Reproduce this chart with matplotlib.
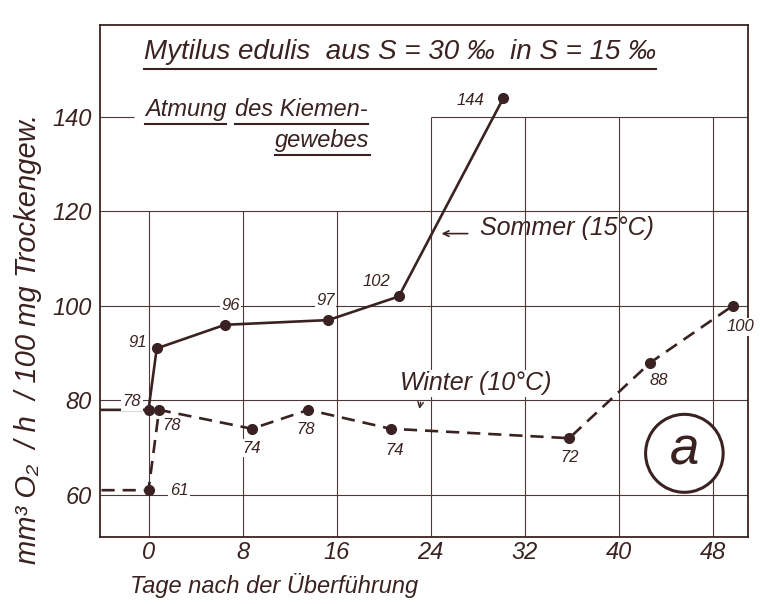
import matplotlib
matplotlib.use("Agg")
import matplotlib.pyplot as plt
from matplotlib.patches import Ellipse

# ---------------------------------------------------------------------------
# Data
# ---------------------------------------------------------------------------
sommer_days = [-4, 0, 0.7, 6.5, 15.3, 21.3, 30.2]
sommer_vals = [78, 78, 91, 96, 97, 102, 144]
sommer_labels = ["", "78", "91", "96", "97", "102", "144"]

winter_days = [-4, 0, 0.9, 8.8, 13.6, 20.6, 35.8, 42.7, 49.7]
winter_vals = [61, 61, 78, 74, 78, 74, 72, 88, 100]
winter_labels = ["", "61", "78", "74", "78", "74", "72", "88", "100"]

x_ticks = [0, 8, 16, 24, 32, 40, 48]
y_ticks = [60, 80, 100, 120, 140]

# label offsets in points (layout only)
sommer_off = [None, (-12, 6), (-14, 4), (4, 14), (-2, 14), (-16, 11), (-24, -2)]
winter_off = [None, (22, 0), (9, -11), (0, -14), (-2, -14), (3, -16), (0, -14), (6, -13), (6, -15)]

INK = "#3b2222"
GRID = "#4e3838"
FONT = ["Liberation Sans", "DejaVu Sans"]

plt.rcParams["font.family"] = FONT
plt.rcParams["font.style"] = "italic"

fig = plt.figure(figsize=(7.6, 6.04), dpi=100)
ax = fig.add_axes([0.132, 0.111, 0.852, 0.848])
ax.set_xlim(-4.1, 51)
ax.set_ylim(51.1, 159.5)

for s in ax.spines.values():
    s.set_color(INK)
    s.set_linewidth(1.3)

# hand-drawn grid: left part stops at 120, right part at 140
for xv in x_ticks:
    top = 120 if xv < 24 else 140
    ax.vlines(xv, 51.1, top, color=GRID, lw=0.8, zorder=1)
for yv in y_ticks[:-1]:
    ax.hlines(yv, -4.1, 51, color=GRID, lw=0.8, zorder=1)
ax.hlines(140, -4.1, -1.2, color=GRID, lw=0.8, zorder=1)
ax.hlines(140, 24, 51, color=GRID, lw=0.8, zorder=1)

ax.set_xticks(x_ticks)
ax.set_yticks(y_ticks)
ax.tick_params(length=0, labelsize=17, colors=INK)
ax.tick_params(axis="x", pad=3)
ax.tick_params(axis="y", pad=6)
for lab in ax.get_xticklabels() + ax.get_yticklabels():
    lab.set_fontstyle("italic")

# series
ax.plot(sommer_days, sommer_vals, color=INK, lw=1.9, zorder=3)
ax.plot(sommer_days[1:], sommer_vals[1:], "o", color=INK, ms=7, zorder=4)
ax.plot(winter_days, winter_vals, color=INK, lw=1.9, dashes=(5, 3), zorder=3)
ax.plot(winter_days[1:], winter_vals[1:], "o", color=INK, ms=7, zorder=4)

for xs, ys, labs, offs in [(sommer_days, sommer_vals, sommer_labels, sommer_off),
                           (winter_days, winter_vals, winter_labels, winter_off)]:
    for xv, yv, lab, off in zip(xs, ys, labs, offs):
        if not lab:
            continue
        ax.annotate(lab, (xv, yv), xytext=off, textcoords="offset points",
                    ha="center", va="center", fontsize=12, color=INK,
                    fontstyle="italic", zorder=5,
                    bbox=dict(boxstyle="square,pad=0.1", fc="white", ec="none"))

# texts
t_title = ax.text(21.4, 153.8, "Mytilus edulis  aus S = 30 ‰  in S = 15 ‰",
                  ha="center", va="center", fontsize=20, color=INK, zorder=5)
t_atm = ax.text(-0.3, 141.5, "Atmung", ha="left", va="center", fontsize=17,
                color=INK, zorder=5, bbox=dict(fc="white", ec="none", pad=1))
t_kie = ax.text(7.4, 141.5, "des Kiemen-", ha="left", va="center", fontsize=17,
                color=INK, zorder=5)
t_gew = ax.text(10.8, 135.1, "gewebes", ha="left", va="center", fontsize=17,
                color=INK, zorder=5)
ax.text(28.2, 116.5, "Sommer (15°C)", ha="left", va="center", fontsize=18,
        color=INK, zorder=5)
ax.annotate("", xy=(24.7, 115.3), xytext=(27.4, 115.3),
            arrowprops=dict(arrowstyle="->", color=INK, lw=1.2))
ax.text(21.4, 83.6, "Winter (10°C)", ha="left", va="center", fontsize=18,
        color=INK, zorder=5, bbox=dict(fc="white", ec="none", pad=1))
ax.annotate("", xy=(23.0, 77.6), xytext=(23.2, 80.2),
            arrowprops=dict(arrowstyle="->", color=INK, lw=1.0))

ax.add_patch(Ellipse((45.6, 68.8), 6.6, 16.5, fc="white", ec=INK, lw=2.2, zorder=5))
ax.text(45.6, 69.3, "a", ha="center", va="center", fontsize=38, color=INK, zorder=6)

ax.set_xlabel("Tage nach der Überführung", fontsize=17, color=INK,
              fontstyle="italic")
ax.xaxis.set_label_coords(0.046, -0.094)
ax.xaxis.label.set_ha("left")
ax.xaxis.label.set_va("center")
ax.set_ylabel("mm³ O₂  / h  / 100 mg Trockengew.", fontsize=21, color=INK,
              fontstyle="italic")
ax.yaxis.set_label_coords(-0.111, 0.387)
ax.yaxis.label.set_va("center")

# underline title and legend words
fig.canvas.draw()
inv = ax.transData.inverted()
for t, gap in [(t_title, 4), (t_atm, 3), (t_kie, 3), (t_gew, 3)]:
    bb = t.get_window_extent()
    (x0, y0), (x1, _) = inv.transform([(bb.x0, bb.y0 - gap), (bb.x1, bb.y0 - gap)])
    ax.plot([x0, x1], [y0, y0], color=INK, lw=1.5, zorder=5, clip_on=False)

fig.savefig("out.png", dpi=100, facecolor="white")
